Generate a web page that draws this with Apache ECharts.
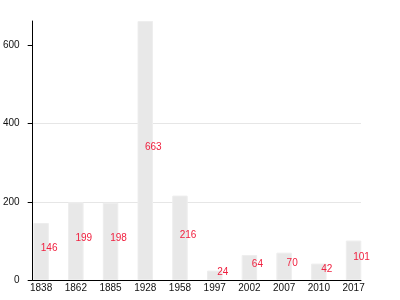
<!DOCTYPE html>
<html><head><meta charset="utf-8">
<script src="https://cdn.jsdelivr.net/npm/echarts@6/dist/echarts.min.js"></script>
<style>html,body{margin:0;padding:0;background:#fff}#c{width:400px;height:300px}</style>
</head><body><div id="c"></div>
<script>
const categories = ['1838','1862','1885','1928','1958','1997','2002','2007','2010','2017'];
const values = [146,199,198,663,216,24,64,70,42,101];
const yTicks = [0,200,400,600];

const chart = echarts.init(document.getElementById('c'), null, {renderer:'canvas'});
chart.setOption({
  animation:false,
  grid:{left:30,right:39,top:21,bottom:20,containLabel:false},
  xAxis:{
    type:'value', min:-0.243, max:9.214,
    axisLine:{show:true,onZero:false,lineStyle:{color:'#000',width:1}},
    axisTick:{show:false},
    splitLine:{show:false},
    axisLabel:{customValues:categories.map((c,i)=>i),formatter:v=>categories[Math.round(v)],color:'#111',fontSize:10,margin:3,fontFamily:'Liberation Sans, Arial, sans-serif'}
  },
  yAxis:{
    type:'value', min:0, max:663, interval:200,
    axisLine:{show:true,onZero:false,lineStyle:{color:'#000',width:1}},
    axisTick:{show:true,inside:false,length:5,customValues:yTicks.slice(),lineStyle:{color:'#000',width:1}},
    splitLine:{show:true,showMaxLine:false,lineStyle:{color:'#e6e6e6',width:1}},
    axisLabel:{customValues:yTicks,color:'#111',fontSize:10,margin:13,fontFamily:'Liberation Sans, Arial, sans-serif'}
  },
  series:[{
    type:'bar',
    barWidth:15.5,
    data:categories.map((c,i)=>[i,values[i]]),
    itemStyle:{color:'#e8e8e8',borderColor:'#eeeeee',borderWidth:1},
    label:{show:true,position:'inside',offset:[8,-3],color:'#f0203f',fontSize:10,fontFamily:'Liberation Sans, Arial, sans-serif',formatter:p=>p.value[1]}
  }]
});
</script></body></html>
